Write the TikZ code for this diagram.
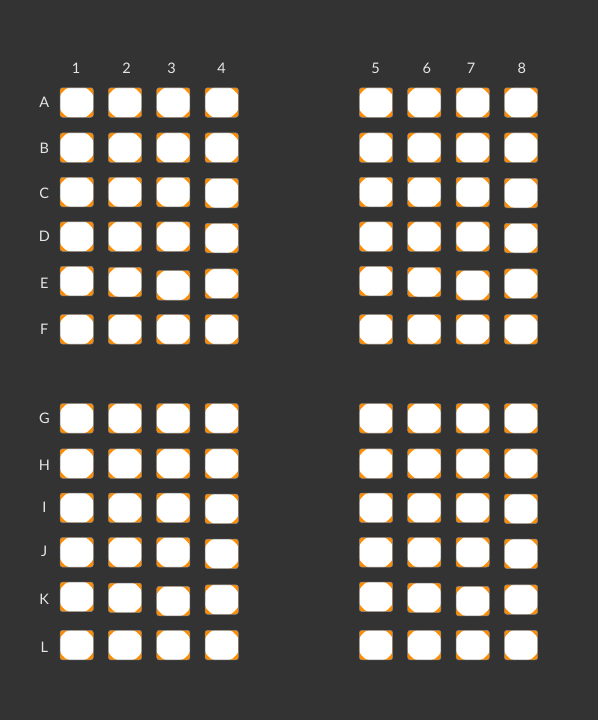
\documentclass[tikz,border=0pt]{standalone}
\usepackage{fontspec}
\setmainfont{Lato}
\definecolor{bg}{HTML}{333333}
\definecolor{seatorange}{HTML}{FF8C00}
\definecolor{seatedge}{HTML}{8A8A8A}
\definecolor{labelcol}{HTML}{E6E6E6}
\tikzset{
  seat/.style={rectangle, rounded corners=2.5pt, fill=seatorange, draw=seatedge, line width=0.5pt,
    minimum width=33.3pt, minimum height=29.5pt, inner sep=0pt,
    path picture={\fill[white]
      ([xshift=7pt]path picture bounding box.north west) --
      ([xshift=-7pt]path picture bounding box.north east) --
      ([yshift=-7pt]path picture bounding box.north east) --
      ([yshift=7pt]path picture bounding box.south east) --
      ([xshift=-7pt]path picture bounding box.south east) --
      ([xshift=7pt]path picture bounding box.south west) --
      ([yshift=7pt]path picture bounding box.south west) --
      ([yshift=-7pt]path picture bounding box.north west) -- cycle;}},
  lbl/.style={text=labelcol, font=\fontsize{14.5}{16}\selectfont, inner sep=0pt}
}
\begin{document}
\begin{tikzpicture}[x=1pt,y=-1pt]
\fill[bg] (0,0) rectangle (598,720);
\useasboundingbox (0,0) rectangle (598,720);
% column labels
\foreach \c/\x in {1/76,2/126.7,3/171.7,4/221.7,5/375.7,6/426.7,7/471,8/521.7}
  \node[lbl] (col\c) at (\x,68) {\c};
% row labels
\foreach \r/\y in {A/102.3,B/148.3,C/193.3,D/236,E/283,F/329,G/418.3,H/465,I/507.7,J/551,K/599.3,L/647.3}
  \node[lbl] (row\r) at (44.3,\y) {\r};
% seats
\foreach \r/\y/\da/\db/\dc/\dd in {A/102.5/0/0/0/0, B/147.7/0/0/0/0, C/192/0/0/0/1, D/236.5/0/0/0/1.5, E/281/0/1/4.3/2.7, F/329.3/0/0/0/0,
  G/418.3/0/0/0/0, H/463.5/0/0/0/0, I/507.8/0/0/0/1, J/552.3/0/0/0/1.5, K/596.8/0/1/4.3/2.7, L/645.1/0/0/0/0}{
  \foreach \c/\x/\d in {1/76.7/\da, 2/125/\db, 3/173.3/\dc, 4/221.7/\dd, 5/376/\da, 6/424.3/\db, 7/472.7/\dc, 8/521/\dd}
    \node[seat] (\r\c) at (\x,\y+\d) {};
}
\end{tikzpicture}
\end{document}
